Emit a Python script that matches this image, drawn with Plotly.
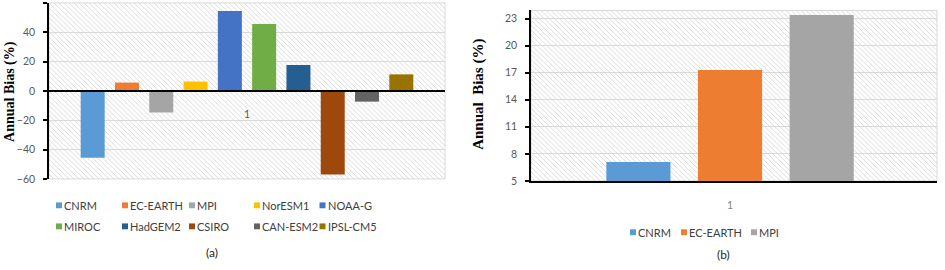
import base64
import plotly.graph_objects as go

# ---------------- data ----------------
models_a = ["CNRM", "EC-EARTH", "MPI", "NorESM1", "NOAA-G",
            "MIROC", "HadGEM2", "CSIRO", "CAN-ESM2", "IPSL-CM5"]
bias_a = [-45.5, 5.7, -14.7, 6.4, 54.5, 45.7, 17.7, -57.0, -7.3, 11.3]
colors_a = ["#5B9BD5", "#ED7D31", "#A5A5A5", "#FFC000", "#4472C4",
            "#70AD47", "#255E91", "#9E480E", "#636363", "#997300"]

models_b = ["CNRM", "EC-EARTH", "MPI"]
bias_b = [7.1, 17.3, 23.4]
colors_b = ["#5B9BD5", "#ED7D31", "#A5A5A5"]

category = ["1"]
ticks_a = [-60, -40, -20, 0, 20, 40, 60]
ticks_b = [5, 8, 11, 14, 17, 20, 23]

W, H = 945, 270


def px_x(p):
    return p / W


def px_y(p):
    return 1 - p / H


# plot areas (pixels)
A_L, A_R, A_T, A_B = 49, 445, 3, 183
B_L, B_R, B_T, B_B = 531, 937, 10.7, 185

dom_ax = [px_x(A_L), px_x(A_R)]
dom_ay = [px_y(A_B), px_y(A_T)]
dom_bx = [px_x(B_L), px_x(B_R)]
dom_by = [px_y(B_B), px_y(B_T)]


def hatch_uri(w, h):
    svg = (f'<svg xmlns="http://www.w3.org/2000/svg" width="{w}" height="{h}" '
           f'viewBox="0 0 {w} {h}" preserveAspectRatio="none">'
           '<defs><pattern id="p" width="5" height="5" patternUnits="userSpaceOnUse">'
           '<path d="M0,0 L5,5 M-1,4 L1,6 M4,-1 L6,1" stroke="#dcdcdc" stroke-width="1"/>'
           '</pattern></defs><rect width="100%" height="100%" fill="white"/>'
           '<rect width="100%" height="100%" fill="url(#p)"/></svg>')
    return "data:image/svg+xml;base64," + base64.b64encode(svg.encode()).decode()


fig = go.Figure()

for i, (name, val, col) in enumerate(zip(models_a, bias_a, colors_a)):
    fig.add_trace(go.Bar(
        x=category, y=[val], name=name, marker_color=col, marker_line_width=0,
        xaxis="x", yaxis="y", offsetgroup=f"a{i}", showlegend=False,
    ))

for i, (name, val, col) in enumerate(zip(models_b, bias_b, colors_b)):
    fig.add_trace(go.Bar(
        x=category, y=[val], name=name, marker_color=col, marker_line_width=0,
        xaxis="x2", yaxis="y2", offsetgroup=f"b{i}", showlegend=False,
    ))

tick_font = dict(family="Lato", size=10.5, color="#595959")
legend_font = dict(family="Lato", size=11, color="#404040")

zero_pos = dom_ay[0] + (dom_ay[1] - dom_ay[0]) * (0 - ticks_a[0]) / (ticks_a[-1] - ticks_a[0])

# ---- legend layout (pixel positions of entries) ----
leg_a_cols = [59, 125, 192, 257, 322.5]
leg_a_rows = [210, 231.5]
leg_b_cols = [633, 684, 754]
leg_b_row = 237.5
SQ = 3  # half size of legend square
TXT_OFF = 5

shapes = [
    dict(type="rect", xref="x domain", yref="y domain", x0=0, x1=1, y0=0, y1=1,
         line=dict(color="#d9d9d9", width=1), layer="below"),
    dict(type="rect", xref="x2 domain", yref="y2 domain", x0=0, x1=1, y0=0, y1=1,
         line=dict(color="#d9d9d9", width=1), layer="below"),
]
annotations = [
    dict(text="<b>Annual Bias (%)</b>", textangle=-90, xref="paper", yref="paper",
         x=px_x(10), y=px_y(94), showarrow=False, xanchor="center", yanchor="middle",
         font=dict(family="Liberation Serif", size=14, color="black")),
    dict(text="<b>Annual  Bias (%)</b>", textangle=-90, xref="paper", yref="paper",
         x=px_x(479), y=px_y(97), showarrow=False, xanchor="center", yanchor="middle",
         font=dict(family="Liberation Serif", size=15, color="black")),
    dict(text="(a)", xref="paper", yref="paper", x=px_x(212), y=px_y(258),
         xanchor="center", yanchor="middle",
         showarrow=False, font=dict(family="Lato", size=12, color="#262626")),
    dict(text="(b)", xref="paper", yref="paper", x=px_x(723), y=px_y(260),
         xanchor="center", yanchor="middle",
         showarrow=False, font=dict(family="Lato", size=12, color="#262626")),
]


def add_entry(name, col, cx, cy):
    shapes.append(dict(type="rect", xref="paper", yref="paper",
                       x0=px_x(cx - SQ), x1=px_x(cx + SQ),
                       y0=px_y(cy + SQ), y1=px_y(cy - SQ),
                       fillcolor=col, line=dict(width=0)))
    annotations.append(dict(text=name, xref="paper", yref="paper",
                            x=px_x(cx + TXT_OFF - 1), y=px_y(cy), xanchor="left",
                            yanchor="middle", showarrow=False, font=legend_font,
                            borderpad=0))


for i, (name, col) in enumerate(zip(models_a, colors_a)):
    add_entry(name, col, leg_a_cols[i % 5], leg_a_rows[i // 5])
for i, (name, col) in enumerate(zip(models_b, colors_b)):
    add_entry(name, col, leg_b_cols[i], leg_b_row)

fig.update_layout(
    width=W, height=H,
    margin=dict(l=0, r=0, t=0, b=0),
    paper_bgcolor="white",
    plot_bgcolor="rgba(0,0,0,0)",
    barmode="group",
    bargap=0.134,
    bargroupgap=0.3,
    showlegend=False,
    xaxis=dict(domain=dom_ax, anchor="free", position=zero_pos,
               showline=True, linecolor="black", linewidth=2,
               showgrid=False, ticks="", tickfont=tick_font,
               ticklabelstandoff=13, range=[-0.5, 0.5]),
    yaxis=dict(domain=dom_ay, anchor="x", range=[ticks_a[0], ticks_a[-1]],
               tickvals=ticks_a, showline=True, linecolor="black", linewidth=1.5,
               ticks="outside", ticklen=4, tickcolor="black", tickwidth=1.5,
               gridcolor="#d9d9d9", gridwidth=1, zeroline=False,
               tickfont=tick_font, ticklabelstandoff=6),
    xaxis2=dict(domain=dom_bx, anchor="y2", showline=True, linecolor="black",
                linewidth=2, showgrid=False, ticks="",
                tickfont=dict(family="Lato", size=10.5, color="#7f7f7f"),
                ticklabelstandoff=14, range=[-0.627, 0.652]),
    yaxis2=dict(domain=dom_by, anchor="x2", range=[5, 23.9], tickvals=ticks_b,
                showline=True, linecolor="black", linewidth=1.5,
                ticks="outside", ticklen=4, tickcolor="black", tickwidth=1.5,
                gridcolor="#d9d9d9", gridwidth=1, zeroline=False,
                tickfont=tick_font, ticklabelstandoff=6),
    images=[
        dict(source=hatch_uri(A_R - A_L, A_B - A_T), xref="paper", yref="paper",
             x=dom_ax[0], y=dom_ay[1], sizex=dom_ax[1] - dom_ax[0],
             sizey=dom_ay[1] - dom_ay[0], sizing="stretch", layer="below",
             xanchor="left", yanchor="top"),
        dict(source=hatch_uri(B_R - B_L, B_B - B_T), xref="paper", yref="paper",
             x=dom_bx[0], y=dom_by[1], sizex=dom_bx[1] - dom_bx[0],
             sizey=dom_by[1] - dom_by[0], sizing="stretch", layer="below",
             xanchor="left", yanchor="top"),
    ],
    shapes=shapes,
    annotations=annotations,
)

fig.write_html("out.html")
